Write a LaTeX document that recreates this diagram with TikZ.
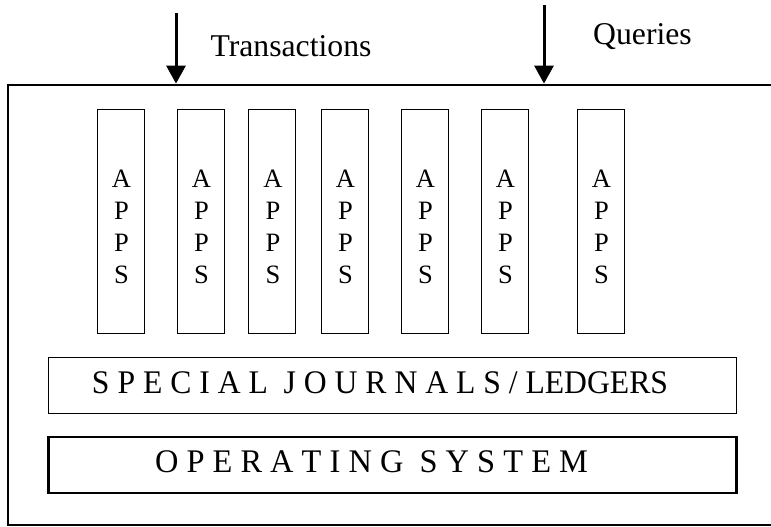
\documentclass[tikz,border=0pt]{standalone}
\usepackage{fontspec}
\setmainfont{Liberation Serif}
\usepackage{graphicx}
\usetikzlibrary{arrows.meta}
\begin{document}
\begin{tikzpicture}[x=1pt, y=-1pt, >={Triangle[length=18pt,width=19pt]},
		box/.style={draw, inner sep=0pt},
		appbox/.style={box, line width=0.8pt, minimum width=47pt, minimum height=224pt},
		apptext/.style={align=center, inner sep=0pt, font=\fontsize{26.5}{32}\selectfont},
		layerbox/.style={box, minimum width=688pt, minimum height=56pt},
		bigtext/.style={anchor=base, inner sep=0pt, font=\fontsize{33}{38}\selectfont},
		toptext/.style={anchor=base, inner sep=0pt, font=\fontsize{31.7}{38}\selectfont}]
				\useasboundingbox (0,0) rectangle (771,527);
				% the whole system
				\node[box, line width=2.8pt, minimum width=765pt, minimum height=440pt] (sys) at (390.5,305) {};
				% application columns
				\foreach \x [count=\i] in {120.5,200.5,272,344.5,424.5,504.5,600.5}{
					\node[appbox] (app\i) at (\x,221) {};
					\node[apptext] (apptext\i) at ([xshift=1pt, yshift=-5.5pt]app\i.center) {A\\P\\P\\S};
				}
				% layers
				\node[layerbox, line width=0.8pt] (sj) at (392,385) {};
				\node[layerbox, line width=2.6pt] (os) at (392.5,465) {};
				\node[bigtext] (sjtext) at (380,393) {\resizebox{576pt}{\height}{S P E C I A L\ \ J O U R N A L S / LEDGERS}};
				\node[bigtext] (ostext) at (371.5,472) {\resizebox{433pt}{\height}{O P E R A T I N G\ \ S Y S T E M}};
				% inputs
				\path (176,13) coordinate (t) (544,5) coordinate (q);
				\draw[->, line width=3pt] (t) -- (t |- sys.north);
				\draw[->, line width=3pt] (q) -- (q |- sys.north);
				\node[toptext] (trans) at (291,57) {Transactions};
				\node[toptext] (qry) at (642.5,45) {Queries};
			\end{tikzpicture}
\end{document}
